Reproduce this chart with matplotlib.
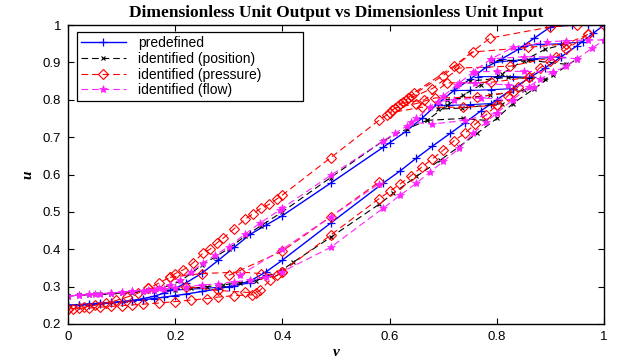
import matplotlib
matplotlib.use("Agg")
import matplotlib.pyplot as plt

# ---------------- data ----------------
# predefined (blue)
blue_lo_v = [0, .02, .04, .06, .08, .10, .12, .14, .16, .18, .20, .22, .25, .28, .31, .34, .37, .40, .49,
             .588, .62, .65, .68, .713, .74, .77, .80, .83, .86, .89, .92, .95, .98, 1.0]
blue_lo_u = [.250, .252, .254, .256, .258, .260, .262, .265, .268, .272, .276, .280, .287, .294, .303, .315, .340, .371, .470,
             .577, .610, .644, .676, .710, .738, .770, .800, .830, .858, .885, .915, .945, .978, 1.0]
blue_up_v = [1.0, .97, .94, .90, .87, .84, .81, .78, .75, .72, .69, .66, .63, .60, .588, .49, .40, .37, .34, .31, .28,
             .25, .22, .20, .18, .16, .14, .12, .10, .08, .06, .04, .02, 0]
blue_up_u = [1.0, 1.0, 1.0, .995, .965, .935, .910, .887, .855, .825, .790, .750, .715, .685, .673, .577, .490, .465, .440,
             .405, .370, .336, .310, .295, .283, .274, .268, .263, .259, .256, .254, .252, .251, .250]
blue_top_v = [[.79, .75, .71, .69], [.83, .79, .75, .72], [.865, .83, .80, .765], [.92, .87, .83, .795],
              [.96, .92, .88, .85]]
blue_top_u = [[.79, .787, .785, .785], [.83, .827, .825, .825], [.86, .862, .862, .862], [.915, .91, .905, .90],
              [.955, .95, .948, .945]]
blue_bot_v = [[.19, .25, .30, .34, .37]]
blue_bot_u = [[.290, .295, .300, .310, .330]]

# identified (position) (black)
black_lo_v = [0, .02, .04, .06, .08, .10, .12, .14, .16, .18, .20, .23, .26, .29, .32, .35, .38, .40, .42, .49,
              .58, .607, .65, .694, .73, .763, .80, .83, .87, .905, .95]
black_lo_u = [.275, .277, .278, .279, .280, .282, .284, .286, .288, .290, .292, .296, .300, .305, .310, .316, .330, .345,
              .365, .432, .520, .550, .595, .638, .675, .710, .750, .790, .830, .866, .910]
black_up_v = [.93, .89, .85, .81, .77, .737, .707, .67, .632, .588, .49, .40, .36, .33, .30, .275, .25, .23, .21,
              .19, .17, .15, .12, .10, .08, .05, .02, 0]
black_up_u = [.950, .935, .905, .870, .840, .812, .785, .745, .722, .690, .592, .500, .463, .435, .402, .380, .358,
              .336, .315, .303, .295, .290, .286, .283, .281, .279, .277, .275]
black_top_v = [[.78, .737, .67], [.81, .735, .69], [.85, .787, .707], [.89, .82, .75], [.93, .858, .79]]
black_top_u = [[.745, .750, .745], [.790, .778, .775], [.825, .812, .800], [.855, .860, .850], [.895, .906, .905]]

# identified (pressure) (red)
red_lo_v = [0, .02, .04, .06, .08, .10, .12, .14, .17, .20, .23, .26, .28, .31, .343, .358, .377, .40, .49,
            .58, .60, .62, .64, .66, .68, .70, .72, .74, .76, .78, .80, .82, .84, .86, .88, .90, .93, .97]
red_lo_u = [.240, .242, .243, .245, .247, .249, .251, .253, .256, .260, .264, .268, .272, .276, .278, .290, .317, .340, .438,
            .535, .555, .575, .597, .620, .642, .665, .690, .710, .735, .760, .785, .810, .835, .860, .885, .905, .935, .975]
red_up_v = [1.0, .95, .90, .787, .72, .645, .635, .625, .615, .605, .595, .58, .49, .40, .39, .375, .36, .345, .33,
            .31, .29, .278, .265, .252, .233, .215, .20, .19, .17, .15, .13, .11, .09, .07, .05, .03, .01, 0]
red_up_u = [1.0, 1.0, .995, .965, .890, .818, .806, .795, .783, .772, .760, .745, .645, .545, .535, .520, .510, .495,
            .480, .455, .430, .417, .400, .390, .363, .345, .335, .325, .310, .295, .282, .272, .263, .256, .250,
            .245, .241, .240]
red_top_v = [[.97, .93, .858, .756, .70, .64], [.91, .825, .73, .68, .63], [.86, .79, .707, .665, .62],
             [.83, .763, .685, .65, .61], [.80, .737, .66, .60]]
red_top_u = [[.975, .950, .940, .928, .865, .810], [.915, .890, .885, .830, .800], [.860, .847, .845, .800, .790],
             [.822, .807, .805, .790, .778], [.785, .780, .780, .765]]
red_bot_v = [[.19, .25, .32, .36, .39, .40], [.15, .22, .28, .33, .35]]
red_bot_u = [[.325, .335, .339, .335, .330, .340], [.295, .300, .290, .285, .283]]
red_mid_v = [.30, .40, .49, .58]
red_mid_u = [.330, .395, .487, .580]

# identified (flow) (magenta)
mag_lo_v = [0, .02, .04, .06, .08, .10, .12, .14, .16, .18, .20, .22, .25, .28, .31, .34, .37, .40, .49,
            .588, .62, .65, .675, .70, .73, .756, .78, .80, .83, .86, .88, .905, .93, .95, .978, 1.0]
mag_lo_u = [.275, .277, .279, .281, .283, .285, .287, .289, .291, .294, .297, .300, .304, .308, .313, .318, .325, .340, .405,
            .510, .545, .577, .606, .635, .670, .710, .740, .765, .800, .835, .855, .874, .890, .910, .938, .960]
mag_up_v = [1.0, .97, .93, .893, .83, .79, .756, .726, .70, .675, .65, .632, .61, .588, .49, .40, .395, .358, .33,
            .30, .275, .252, .23, .209, .19, .17, .15, .12, .10, .08, .05, .02, 0]
mag_up_u = [.960, .960, .958, .955, .940, .910, .875, .840, .810, .780, .750, .730, .710, .690, .598, .510, .505, .470,
            .440, .407, .385, .363, .340, .318, .305, .297, .292, .288, .285, .283, .280, .277, .275]
mag_top_v = [[.95, .90, .85, .79], [.905, .85, .80, .76], [.87, .82, .76, .73], [.83, .77, .72, .69],
             [.80, .74, .68, .64]]
mag_top_u = [[.910, .915, .915, .910], [.874, .876, .876, .875], [.835, .840, .845, .845], [.800, .805, .800, .795],
             [.765, .745, .735, .740]]
mag_mid_v = [.32, .40, .49, .58]
mag_mid_u = [.330, .400, .487, .575]

labels = ["predefined", "identified (position)", "identified (pressure)", "identified (flow)"]

# ---------------- figure ----------------
fig = plt.figure(figsize=(6.25, 3.58), dpi=100)
ax = fig.add_axes([0.1088, 0.095, 0.8576, 0.835])

BLUE = "#0000ff"
BLACK = "#000000"
RED = "#ff0000"
MAG = "#ff22ff"

def draw(vs, us, color, ls, marker, ms, mew, label=None, lw=0.8):
    kw = dict(color=color, marker=marker, markersize=ms, markeredgewidth=mew, linewidth=lw)
    if marker in ("D",):
        kw["markerfacecolor"] = "none"
    if ls == "--":
        kw["dashes"] = (6, 3.5)
    else:
        kw["linestyle"] = ls
    ax.plot(vs, us, label=label, **kw)

# blue
bstyle = (BLUE, "-", "+", 6, 0.9)
draw(blue_lo_v, blue_lo_u, *bstyle, label=labels[0], lw=1.0)
draw(blue_up_v, blue_up_u, *bstyle, lw=1.0)
for v, u in zip(blue_top_v, blue_top_u):
    draw(v, u, *bstyle)
for v, u in zip(blue_bot_v, blue_bot_u):
    draw(v, u, *bstyle)

# black
kstyle = (BLACK, "--", "x", 3.5, 0.8)
draw(black_lo_v, black_lo_u, *kstyle, label=labels[1])
draw(black_up_v, black_up_u, *kstyle)
for v, u in zip(black_top_v, black_top_u):
    draw(v, u, *kstyle)

# red
rstyle = (RED, "--", "D", 4.6, 0.8)
draw(red_lo_v, red_lo_u, *rstyle, label=labels[2])
draw(red_up_v, red_up_u, *rstyle)
for v, u in zip(red_top_v, red_top_u):
    draw(v, u, *rstyle)
for v, u in zip(red_bot_v, red_bot_u):
    draw(v, u, *rstyle)
draw(red_mid_v, red_mid_u, *rstyle)

# magenta
mstyle = (MAG, "--", "*", 6, 0.5)
draw(mag_lo_v, mag_lo_u, *mstyle, label=labels[3])
draw(mag_up_v, mag_up_u, *mstyle)
for v, u in zip(mag_top_v, mag_top_u):
    draw(v, u, *mstyle)
draw(mag_mid_v, mag_mid_u, *mstyle)

ax.set_xlim(0, 1)
ax.set_ylim(0.2, 1.0)
ax.set_xticks([0, 0.2, 0.4, 0.6, 0.8, 1.0])
ax.set_xticklabels(["0", "0.2", "0.4", "0.6", "0.8", "1"])
ax.set_yticks([0.2, 0.3, 0.4, 0.5, 0.6, 0.7, 0.8, 0.9, 1.0])
ax.set_yticklabels(["0.2", "0.3", "0.4", "0.5", "0.6", "0.7", "0.8", "0.9", "1"])
ax.tick_params(direction="in", length=4, width=0.8, top=True, right=True, labelsize=9.5, pad=5)
for lab in ax.get_xticklabels() + ax.get_yticklabels():
    lab.set_family("Liberation Sans")
for s in ax.spines.values():
    s.set_linewidth(1.0)
    s.set_color("black")

ax.set_title("Dimensionless Unit Output vs Dimensionless Unit Input", family="Liberation Serif",
             fontweight="bold", fontsize=12.5, pad=6)
ax.set_xlabel("v", family="Liberation Serif", style="italic", fontweight="bold", fontsize=11, labelpad=2)
ax.set_ylabel("u", family="Liberation Serif", style="italic", fontweight="bold", fontsize=11, labelpad=6)

leg = ax.legend(loc="upper left", bbox_to_anchor=(0.0168, 0.7525, 0.4217, 0.224), mode="expand",
                borderaxespad=0, fancybox=False, framealpha=1, edgecolor="black",
                prop={"family": "Liberation Sans", "size": 10}, handlelength=3.2, handletextpad=0.9,
                labelspacing=0.12, borderpad=0.3)
leg.get_frame().set_linewidth(0.9)

fig.savefig("out.png", dpi=100)
